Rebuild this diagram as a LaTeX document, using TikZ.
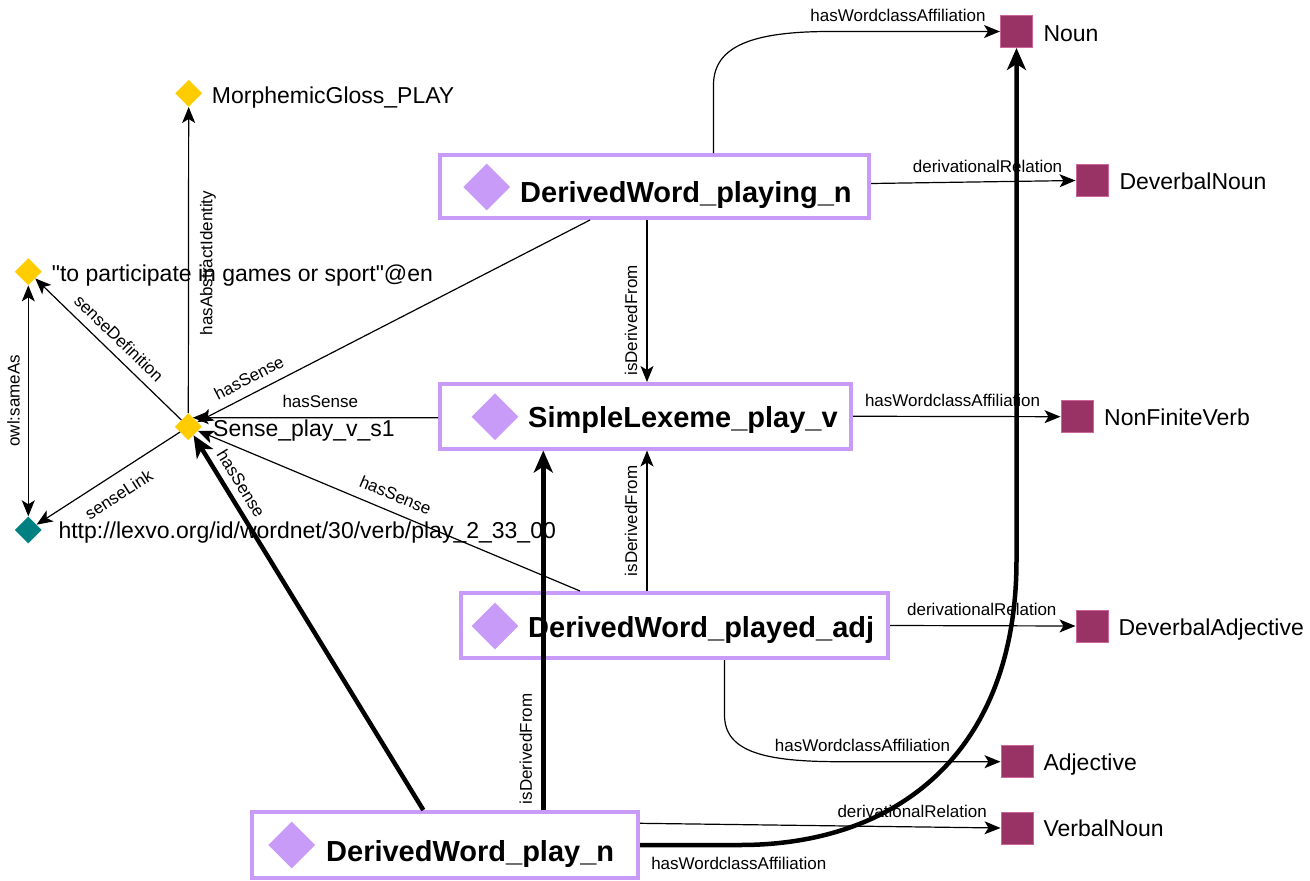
\documentclass[tikz,border=0pt]{standalone}
\usepackage{fontspec}
\setmainfont{Liberation Sans}
% same face without TeX ligature mapping, so that " stays a straight quote
\newfontfamily\plainquotes{Liberation Sans}
\usetikzlibrary{arrows.meta,shapes.geometric,calc}
\definecolor{boxline}{RGB}{200,155,248}
\definecolor{boxmark}{RGB}{200,155,248}
\definecolor{instyellow}{RGB}{255,204,0}
\definecolor{instteal}{RGB}{0,128,128}
\definecolor{classfill}{RGB}{153,51,102}
\definecolor{classline}{RGB}{204,102,153}

\begin{document}
\begin{tikzpicture}[x=1pt,y=-1pt,
  wordbox/.style={draw=boxline, line width=4pt, rectangle, inner sep=0pt},
  wordmark/.style={diamond, fill=boxmark, inner sep=0pt, minimum width=47pt, minimum height=47pt},
  wordname/.style={inner sep=0pt, anchor=base west, font=\fontsize{29}{31}\selectfont\bfseries},
  inst/.style={diamond, inner sep=0pt, minimum width=27pt, minimum height=27pt},
  cls/.style={rectangle, fill=classfill, draw=classline, line width=1pt, inner sep=0pt, minimum size=32pt},
  tagtext/.style={inner sep=0pt, anchor=base west, font=\fontsize{23}{25}\selectfont},
  link/.style={line width=1.2pt, >={Stealth[length=16pt,width=13pt,inset=4pt]}, ->},
  strong/.style={line width=4.5pt, >={Stealth[length=22pt,width=19pt,inset=6pt]}, ->},
  lbl/.style={font=\fontsize{17}{19}\selectfont, inner xsep=0pt, inner ysep=9pt},
]
\useasboundingbox (0,0) rectangle (1310,881);

% lexical entries
\node[wordbox, minimum width=429pt, minimum height=63pt] (playing) at (654.5,186.5) {};
\node[wordmark] (playingM) at (486.7,187) {};
\node[wordname] (playingT) at (520,202.7) {DerivedWord\_playing\_n};

\node[wordbox, minimum width=411pt, minimum height=64.5pt] (lex) at (645.5,416.25) {};
\node[wordmark] (lexM) at (495,416.7) {};
\node[wordname] (lexT) at (528,427.5) {SimpleLexeme\_play\_v};

\node[wordbox, minimum width=427pt, minimum height=65pt] (played) at (674.5,625.5) {};
\node[wordmark] (playedM) at (495,626) {};
\node[wordname] (playedT) at (528,637) {DerivedWord\_played\_adj};

\node[wordbox, minimum width=386pt, minimum height=66pt] (playn) at (445,845) {};
\node[wordmark] (playnM) at (291.7,845) {};
\node[wordname] (playnT) at (326,861.7) {DerivedWord\_play\_n};

% individuals
\node[inst, fill=instyellow] (gloss) at (188.7,93.3) {};
\node[tagtext] (glossT) at (211.7,103.3) {MorphemicGloss\_PLAY};
\node[inst, fill=instyellow] (defn) at (28.3,271.7) {};
\node[tagtext] (defnT) at (51.7,281.7) {\plainquotes "to participate in games or sport"@en};
\node[inst, fill=instyellow] (sense) at (188.3,426.7) {};
\node[tagtext] (senseT) at (213,436.7) {Sense\_play\_v\_s1};
\node[inst, fill=instteal] (lexvo) at (28.3,530) {};
\node[tagtext] (lexvoT) at (58.3,538.3) {http://lexvo.org/id/wordnet/30/verb/play\_2\_33\_00};

% word classes
\node[cls] (noun) at (1016.5,31.5) {};
\node[tagtext] (nounT) at (1043.3,41.7) {Noun};
\node[cls] (devnoun) at (1092,180.5) {};
\node[tagtext] (devnounT) at (1119.3,189.3) {DeverbalNoun};
\node[cls] (nfverb) at (1077,416.7) {};
\node[tagtext] (nfverbT) at (1104,425.7) {NonFiniteVerb};
\node[cls] (devadj) at (1092,626) {};
\node[tagtext] (devadjT) at (1118.3,635) {DeverbalAdjective};
\node[cls] (adj) at (1017,761.7) {};
\node[tagtext] (adjT) at (1043.3,770.7) {Adjective};
\node[cls] (vnoun) at (1017,828) {};
\node[tagtext] (vnounT) at (1043.3,836.7) {VerbalNoun};

% attachment points on the boxes
\coordinate (playingS) at ([xshift=-64.5pt]playing.south);
\coordinate (playingD) at ([xshift=-7.5pt]playing.south);
\coordinate (playingE) at ([yshift=3pt]playing.east);
\coordinate (playingN) at ([xshift=59pt]playing.north);
\coordinate (lexW) at ([yshift=-1.5pt]lex.west);
\coordinate (playedN) at ([xshift=-94.5pt]played.north);
\coordinate (playedD) at ([xshift=-27.5pt]played.north);
\coordinate (playedS) at ([xshift=50pt]played.south);
\coordinate (playnN) at ([xshift=-21.7pt]playn.north);
\coordinate (playnD) at ([xshift=98.3pt]playn.north);
\coordinate (playnE) at ([yshift=21.7pt]playn.east);

% sense relations
\draw[link] (sense) -- node[lbl, sloped, anchor=south, pos=0.5, inner ysep=8.5pt] {senseDefinition} (defn);
\draw[link] (sense) -- node[lbl, sloped, anchor=north, pos=0.5, inner ysep=12.5pt] {senseLink} (lexvo);
\draw[link] (sense) -- node[lbl, rotate=90, anchor=north, pos=0.49, inner ysep=11pt] {hasAbstractIdentity} (gloss);
\draw[link, <->] (defn) -- node[lbl, rotate=90, anchor=south, pos=0.5, inner ysep=8pt] {owl:sameAs} (lexvo);

% hasSense
\draw[link] (playingS) -- node[lbl, sloped, anchor=south, pos=0.85] {hasSense} (sense);
\draw[link] (lexW) -- node[lbl, anchor=south, pos=0.48] {hasSense} ($(sense)+(4.5,-9)$);
\draw[link] (playedN) -- node[lbl, sloped, anchor=south, pos=0.5, inner ysep=10pt] {hasSense} (sense);
\draw[strong] (playnN) -- node[lbl, sloped, anchor=south, pos=0.85, inner ysep=7pt] {hasSense} (sense);

% isDerivedFrom
\draw[link] (playingD) -- node[lbl, rotate=90, anchor=south, pos=0.62] {isDerivedFrom} (playingD |- lex.north);
\draw[link] (playedD) -- node[lbl, rotate=90, anchor=south, pos=0.5] {isDerivedFrom} (playedD |- lex.south);
\draw[strong] (playnD) -- node[lbl, rotate=90, anchor=south, pos=0.17] {isDerivedFrom} (playnD |- lex.south);

% word class and derivational relations
\draw[link] (playingE) -- node[lbl, anchor=south, pos=0.57] {derivationalRelation} (devnoun.west);
\draw[link] (lex.east) -- node[lbl, anchor=south, pos=0.48] {hasWordclassAffiliation} (nfverb.west);
\draw[link] (played.east) -- node[lbl, anchor=south, pos=0.495] {derivationalRelation} (devadj.west);
\draw[link] (playingN) -- (713.5,85) .. controls (713.5,45) and (755,31.5) .. (830,31.5)
  -- node[lbl, anchor=south, pos=0.4] {hasWordclassAffiliation} (noun.west);
\draw[link] (playedS) -- (724.5,715) .. controls (724.5,752) and (765,761.7) .. (840,761.7)
  -- node[lbl, anchor=south, pos=0.14] {hasWordclassAffiliation} (adj.west);
\draw[link] (playnE) -- node[lbl, anchor=south, pos=0.755] {derivationalRelation} (vnoun.west);
\draw[strong] (playn.east) -- node[lbl, anchor=north west, pos=0, xshift=9pt, inner ysep=10pt] {hasWordclassAffiliation} (740,845)
  .. controls (900,845) and (1016.5,750) .. (1016.5,560) -- (noun.south);
\end{tikzpicture}
\end{document}
